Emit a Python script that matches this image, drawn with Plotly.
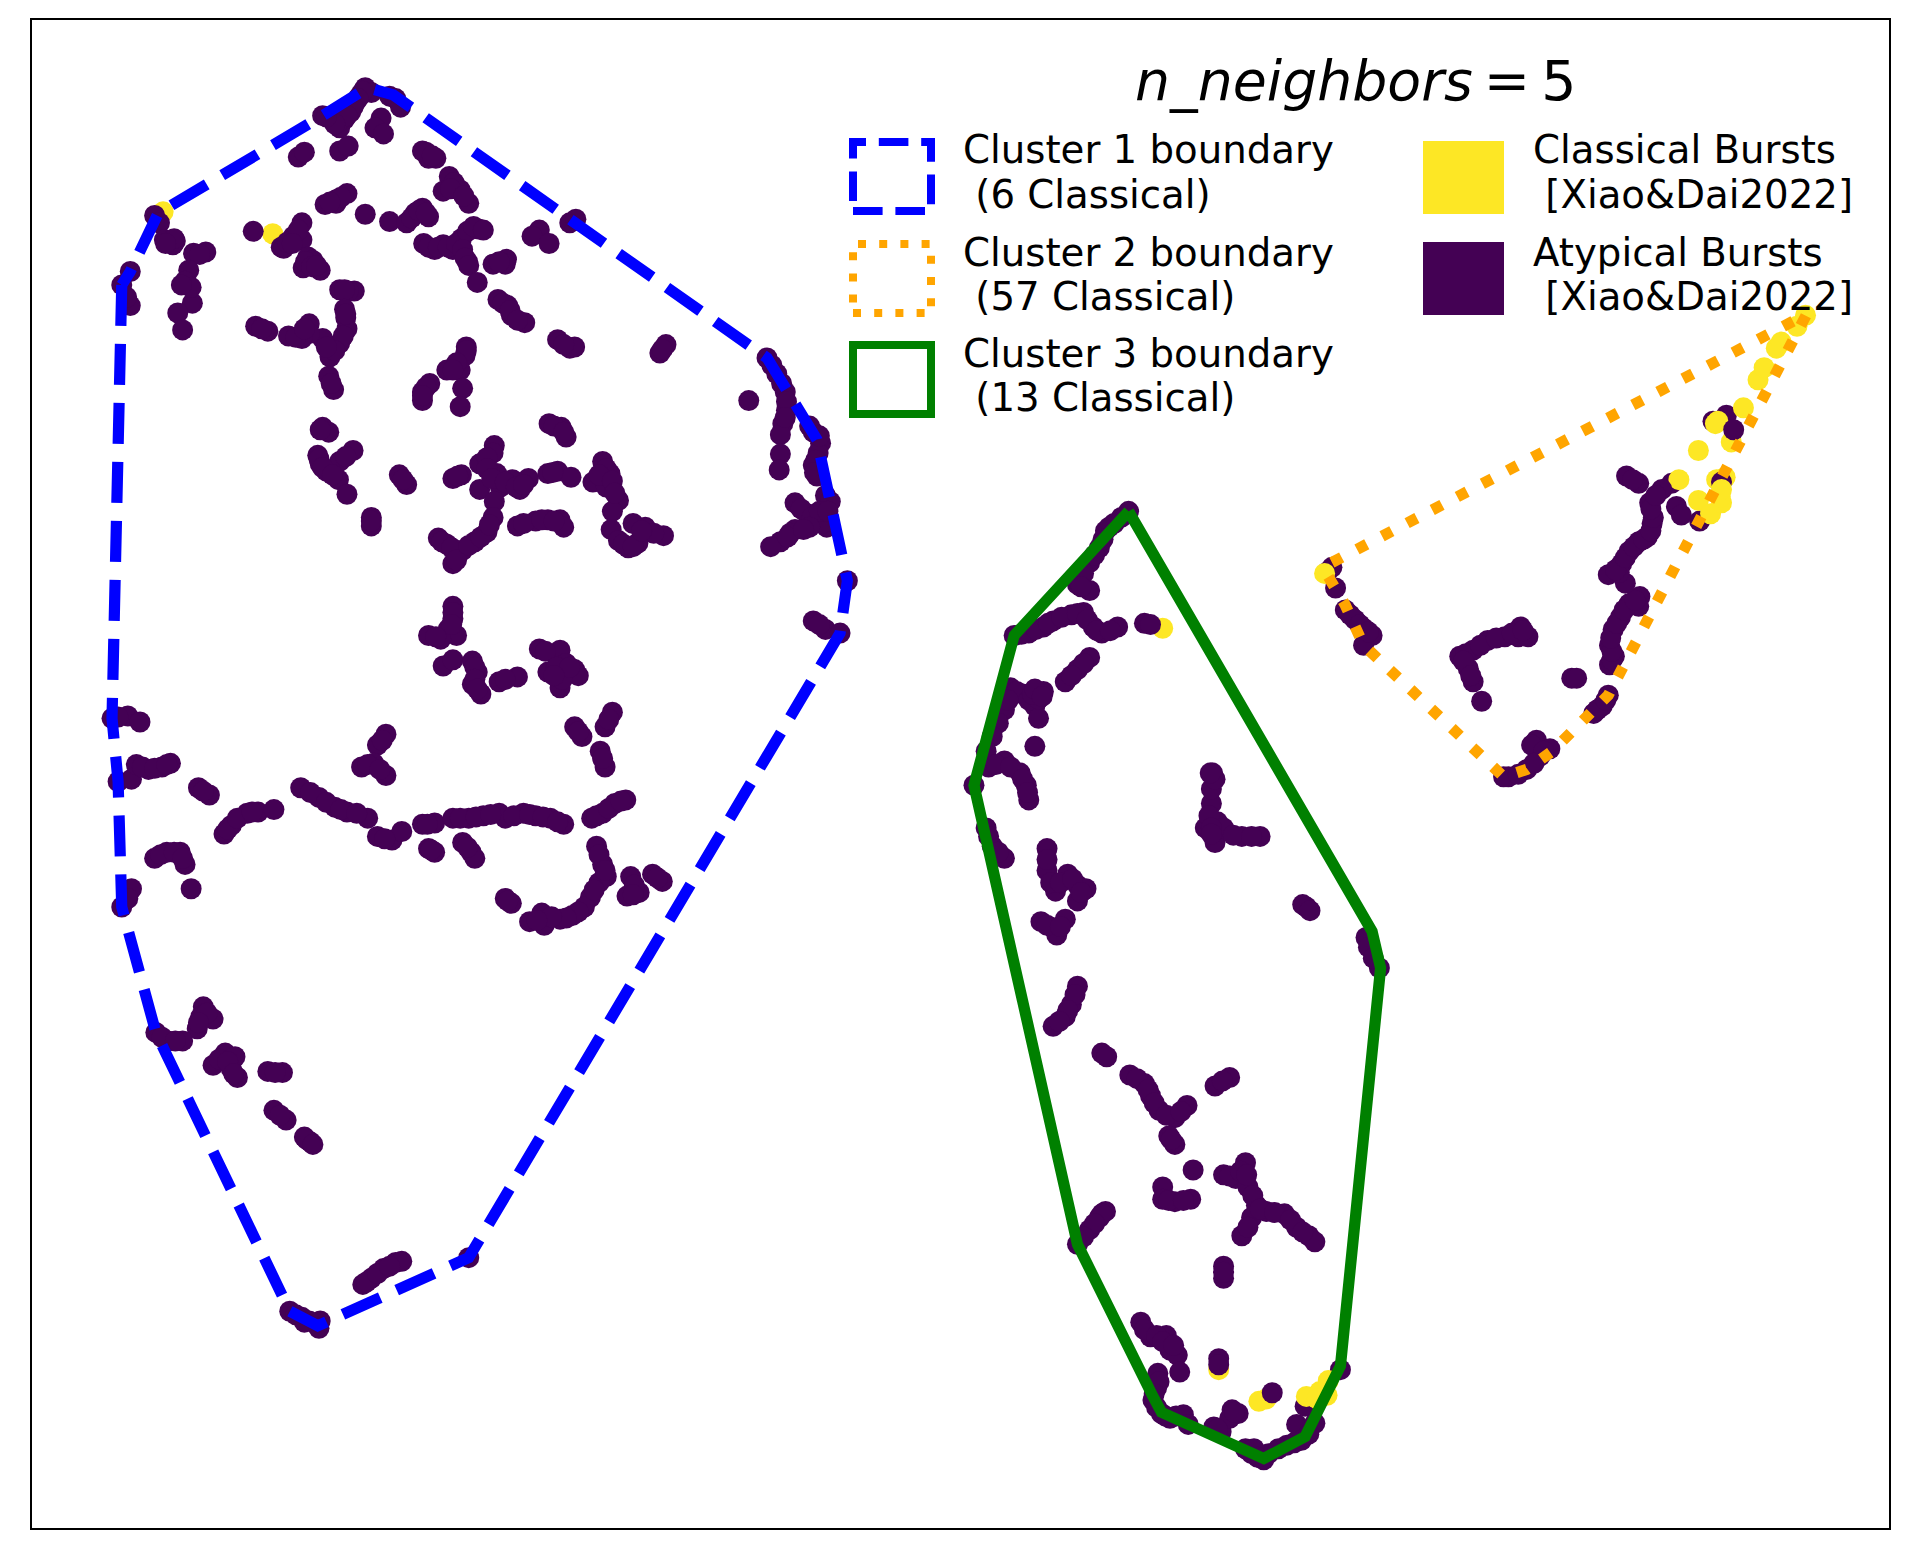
import plotly.graph_objects as go

cluster1_atypical = [
(300,72),(305,76),(296,78),(292,84),(288,92),(283,98),(279,105),(265,95),(271,97),(278,100),
(298,75),(294,81),(290,88),(285,95),(275,102),(268,96),
(320,79),(325,81),(329,88),(313,97),(308,105),(315,110),(245,129),(250,125),(279,124),(286,120),
(350,125),(358,130),(352,130),(347,124),(355,128),(369,145),(364,157),(378,156),(385,167),(373,150),(370,155),(381,161),
(285,159),(276,164),(267,168),(276,167),(280,162),(271,166),
(300,176),(320,182),(334,183),(341,175),(347,171),(352,178),(338,179),(344,173),(350,175),
(348,200),(357,205),(364,201),(372,205),(379,196),(352,203),(360,203),(368,203),(375,200),(384,190),(393,188),(380,205),(384,215),
(389,186),(397,189),(382,212),(385,218),(405,217),(416,213),(415,217),(410,215),(392,232),(409,246),(417,251),(420,259),(431,265),(413,249),(419,255),(425,263),
(458,279),(468,286),(472,285),(463,283),(443,189),(437,194),(451,200),(468,183),(473,180),(208,190),
(127,177),(131,183),(135,197),(142,201),(144,198),(169,207),(159,208),(164,209),(155,222),(153,233),(152,231),
(158,249),(146,257),(150,271),(107,223),(100,234),(107,251),(104,244),
(231,203),(241,194),(248,183),(248,197),(233,204),(253,211),(249,220),(263,222),(257,214),(236,199),(245,189),(240,200),(251,215),(256,219),(260,218),
(279,238),(291,239),(286,239),(283,238),(283,254),(284,261),(285,270),(279,282),(271,293),(265,278),(284,258),(282,276),(275,288),(268,285),
(254,266),(254,274),(248,278),(237,276),(243,277),(250,270),(210,268),(220,272),(215,270),(270,309),(274,320),(272,315),
(383,285),(382,292),(367,304),(378,304),(383,288),(375,298),(372,304),(353,315),(347,322),(347,329),(350,318),(347,325),(380,319),(378,334),
(265,351),(270,355),(263,353),(261,374),(263,381),(268,387),(278,394),(285,406),(290,370),(279,379),(262,377),(265,384),(273,390),(284,375),
(328,390),(334,398),(331,394),(305,425),(305,432),(372,393),(379,390),(376,391),(394,402),
(406,366),(405,372),(394,381),(408,389),(411,400),(427,402),(434,393),(421,394),(406,412),(400,376),(400,385),(404,393),(415,396),(424,400),(430,398),
(450,389),(458,387),(469,392),(454,388),(451,348),(461,351),(465,359),(455,350),(463,355),
(495,379),(501,389),(487,396),(498,400),(508,411),(503,420),(498,385),(492,390),(503,395),(505,405),
(360,442),(367,447),(375,455),(372,463),(380,452),(390,445),(400,437),(405,425),(363,445),(371,450),(375,460),(385,448),(395,441),(402,431),
(425,432),(440,428),(450,427),(460,427),(463,433),(430,430),(445,427),(455,428),
(520,430),(530,433),(545,440),(537,438),(502,435),(508,444),(516,450),(524,446),(512,447),(520,449),(527,436),
(547,283),(542,290),(544,287),(630,294),(638,307),(645,322),(646,337),(643,348),(641,357),(634,300),(642,315),(646,330),(645,343),(615,329),(641,373),(640,386),
(665,350),(674,364),(672,372),(668,382),(671,391),(668,355),(673,358),(670,378),(669,388),
(678,407),(682,412),(653,413),(663,422),(671,427),(679,433),(658,418),(667,425),(675,430),(673,420),(680,420),
(653,435),(641,445),(633,449),(665,433),(649,438),(647,441),(660,435),(696,477),(668,510),(678,517),(690,520),(673,513),
(372,498),(372,508),(368,517),(375,522),(352,522),(362,525),(372,503),(371,513),(358,523),(364,547),(372,542),
(388,543),(392,552),(388,562),(395,570),(410,560),(425,556),(390,548),(390,558),(392,566),(415,558),
(443,533),(460,534),(465,545),(450,552),(472,550),(460,565),(475,555),(462,558),(448,535),(457,548),(468,548),(455,555),
(503,585),(497,597),(472,597),(478,605),(493,617),(497,630),(500,591),(475,601),(495,623),
(317,603),(310,612),(297,630),(307,627),(317,637),(314,608),(302,628),(312,632),(92,590),(105,588),(115,593),(97,589),
(97,642),(108,640),(112,628),(122,632),(133,630),(140,627),(117,630),(127,631),(137,628),(163,647),(172,653),(167,650),
(184,685),(190,678),(203,668),(212,667),(225,665),(187,681),(195,672),(207,667),
(247,647),(262,655),(275,663),(285,667),(302,672),(255,651),(268,659),(280,665),(293,668),
(310,687),(322,690),(330,683),(316,689),(347,677),(357,676),(351,677),(352,697),(357,700),(354,698),
(372,672),(385,672),(397,670),(410,668),(415,672),(430,668),(440,670),(452,672),(463,677),(378,672),(391,671),(403,669),(422,670),(435,669),(446,671),(458,675),
(380,692),(387,700),(390,705),(384,696),(486,672),(495,668),(505,660),(514,657),(490,670),(500,664),(510,658),
(490,695),(495,710),(498,720),(492,725),(485,737),(480,745),(470,752),(460,755),(445,750),(447,760),(435,757),(415,738),(420,742),
(492,702),(497,715),(488,731),(475,749),(465,754),(453,753),(441,756),(417,740),
(518,720),(525,733),(515,736),(536,718),(544,724),(521,727),(520,735),(540,721),
(127,705),(137,700),(148,700),(152,710),(157,730),(132,702),(143,700),(150,705),(108,730),(100,745),(105,738),
(167,827),(175,837),(162,845),(165,835),(170,832),(163,840),(128,848),(138,855),(150,855),(133,852),(144,855),
(185,865),(175,875),(190,878),(195,885),(193,868),(180,870),(187,872),(192,882),(220,880),(232,881),(226,881),(225,912),(235,920),(230,916),(252,936),(255,938),
(298,1055),(305,1050),(315,1042),(325,1037),(330,1036),(301,1053),(310,1046),(320,1040),(385,1033),(238,1077),(248,1082),(260,1088),(263,1085),(243,1080),(254,1085),
(250,934),(257,940),(305,428),(143,196),(136,200),(157,236),(149,234),(250,1086),(262,1091),
]
cluster2_atypical_front = [
(1097,483),(1105,501),(1113,509),(1120,516),(1127,522),(1120,530),(1109,505),(1117,513),(1124,519),
(1199,539),(1210,534),(1206,549),(1210,560),(1222,526),(1236,523),(1249,515),(1247,523),(1255,523),(1217,576),
(1204,537),(1202,543),(1208,555),(1216,530),(1229,524),(1242,520),(1251,518),
(1291,557),(1295,557),(1262,608),(1273,615),(1265,621),(1254,632),(1239,638),(1235,638),(1258,612),(1268,617),(1260,627),(1247,636),
(1309,586),(1316,580),(1321,571),(1312,583),(1319,575),
(1322,546),(1326,539),(1322,530),(1325,517),(1331,507),(1338,496),(1347,490),(1346,498),(1324,542),(1324,535),(1323,524),(1328,512),(1334,501),(1343,493),
(1335,479),(1321,472),(1332,463),(1338,453),(1346,445),(1353,441),(1357,430),(1355,413),(1365,402),(1330,470),(1327,468),(1335,458),(1342,449),(1350,443),(1356,436),(1358,425),(1356,418),(1360,407),
(1336,391),(1346,397),(1341,394),(1377,416),(1381,423),(1424,353),
]
cluster2_atypical_back = [(1094,466),(1090,470),(1373,397),(1396,428),(1418,341),(1407,346),(1414,396)]
cluster3_atypical_front = [
(927,420),(915,430),(908,436),(903,450),(895,462),(885,480),(895,485),(921,425),(911,433),(906,443),(899,456),(890,471),(888,482),
(833,522),(845,520),(857,515),(865,510),(880,505),(890,503),(898,515),(905,520),(918,515),(940,512),(839,521),(851,517),(861,512),(872,507),(885,504),(893,509),(901,518),(912,518),(945,513),
(895,540),(885,550),(875,560),(890,545),(880,555),(830,565),(840,570),(850,580),(857,568),(825,583),(853,590),(835,568),(845,575),(853,574),(848,570),(828,575),(820,594),(815,605),(850,613),
(812,630),(825,625),(838,635),(843,645),(845,657),(810,617),(818,628),(830,630),(840,640),(844,651),(800,645),(810,680),(815,695),(825,705),(812,687),(820,700),
(860,697),(860,715),(867,732),(877,718),(885,727),(885,740),(892,730),(860,706),(863,725),(871,725),(881,722),(888,733),(855,757),(865,762),(875,755),(868,768),(860,760),(871,761),
(885,810),(880,825),(875,835),(865,843),(883,817),(877,830),(870,839),(905,865),(909,868),(928,883),(940,890),(945,900),(952,912),(965,918),(975,908),(934,886),(943,895),(948,906),(958,916),(970,913),
(998,892),(1010,885),(1004,888),(960,933),(965,940),(962,936),(980,961),(955,975),(955,985),(965,987),(978,985),(960,986),(972,986),
(1005,965),(1015,968),(1023,955),(1025,975),(1032,990),(1028,1000),(1020,1015),(1040,995),(1055,997),(1065,1008),(1075,1015),(1080,1020),
(1010,966),(1019,962),(1024,965),(1029,982),(1025,1008),(1035,993),(1047,996),(1060,1002),(1070,1012),
(908,995),(903,1000),(895,1010),(885,1022),(905,997),(899,1005),(890,1016),(1005,1040),(1005,1050),(1005,1045),
(996,635),(995,660),(990,680),(1000,675),(998,692),(1005,680),(1020,687),(1035,687),(995,648),(993,670),(995,680),(1013,686),(1028,687),(1073,745),(1122,770),(1133,795),(1124,778),(1128,787),
(937,1086),(945,1098),(958,1097),(961,1109),(967,1113),(969,1127),(951,1128),(950,1140),(947,1150),(954,1161),(961,1165),(940,1092),(950,1097),(955,1102),(964,1105),(952,1135),(948,1145),(950,1156),(957,1163),(966,1163),
(972,1162),(976,1170),(997,1172),(1003,1176),(1012,1158),(1017,1161),(1010,1165),(1000,1174),(1014,1160),(1001,1116),(1001,1121),(1045,1144),
(1023,1190),(1038,1199),(1042,1194),(1028,1194),(1057,1187),(1069,1183),(1030,1190),(1033,1197),(1050,1190),(1063,1185),(1075,1178),
(1070,743),(1076,748),(998,640),(994,635),(995,685),(850,566),(856,572),
]
cluster3_atypical_back = [(1065,1170),(1072,1155),(1080,1169),(1101,1125)]
classical_back = [(134,174),(224,192),(1417,392),(1410,394)]
classical_front = [
(955,516),(1001,1125),(1034,1151),(1040,1149),(1073,1147),(1084,1143),(1082,1149),(1091,1134),(1090,1146),
(1379,394),(1395,370),(1409,348),(1411,346),(1422,363),(1432,335),(1444,312),(1449,302),(1459,286),(1463,281),(1476,268),(1483,259),
(1395,411),(1405,422),(1414,413),(1413,408),(1414,402),(1088,471),
]

cluster1_boundary = [(100,234),(92,590),(97,642),(100,745),(128,848),(238,1077),(261,1089),(385,1033),(690,520),(696,477),(671,361),(630,294),(323,78),(302,72),(265,95),(130,175),(107,223),(100,234)]
cluster2_boundary = [(1094,462),(1484,258),(1321,571),(1275,617),(1254,632),(1235,638),(1120,530),(1105,497),(1090,472),(1094,462)]
cluster3_boundary = [(927,420),(1127,765),(1134,795),(1101,1122),(1072,1180),(1038,1198),(954,1160),(947,1147),(885,1022),(808,680),(800,645),(833,522),(927,420)]

legend_left = [("Cluster 1 boundary", " (6 Classical)"), ("Cluster 2 boundary", " (57 Classical)"), ("Cluster 3 boundary", " (13 Classical)")]
legend_right = [("Classical Bursts", " [Xiao&Dai2022]"), ("Atypical Bursts", " [Xiao&Dai2022]")]
title_text = "<i>n_neighbors</i>\u2009=\u20095"

PURPLE = "#440154"; YELLOW = "#fde725"
W, H = 1909, 1559
L, R, T, B = 32, 1889, 20, 1528
FONT = "DejaVu Sans"
K = 1909 / 1568

def px(x): return (x - L) / (R - L)
def py(y): return (B - y) / (B - T)

fig = go.Figure()
def dots(points, color, name):
    fig.add_trace(go.Scatter(x=[p[0] for p in points], y=[p[1] for p in points], mode="markers", name=name,
                             marker=dict(color=color, size=21, line=dict(width=0))))
def outline(points, color, dash, name):
    fig.add_trace(go.Scatter(x=[p[0] for p in points], y=[p[1] for p in points], mode="lines", name=name,
                             line=dict(color=color, width=11.2, dash=dash)))

dots(classical_back, YELLOW, "Classical (under)")
dots(cluster2_atypical_back + cluster3_atypical_back, PURPLE, "Atypical (under)")
dots(classical_front, YELLOW, "Classical")
dots(cluster1_atypical + cluster2_atypical_front + cluster3_atypical_front, PURPLE, "Atypical")
outline(cluster1_boundary, "blue", "41px,18px", "Cluster 1 boundary")
outline(cluster2_boundary, "orange", "11px,17.3px", "Cluster 2 boundary")
outline(cluster3_boundary, "green", "solid", "Cluster 3 boundary")

shapes = []
tops = [142, 244, 345]
styles = [("blue", "29.6px,12.8px"), ("orange", "8px,13.2px"), ("green", "solid")]
for top, (c, d) in zip(tops, styles):
    shapes.append(dict(type="rect", xref="paper", yref="paper", x0=px(853), x1=px(931), y0=py(top + 69), y1=py(top),
                       line=dict(color=c, width=8, dash=d), fillcolor="rgba(0,0,0,0)"))
for top, c in zip([141, 242], [YELLOW, PURPLE]):
    shapes.append(dict(type="rect", xref="paper", yref="paper", x0=px(1423), x1=px(1504), y0=py(top), y1=py(top + 73),
                       line=dict(width=0), fillcolor=c))

ann = []
def text(x, y, s, size=38.7):
    ann.append(dict(xref="paper", yref="paper", x=px(x), y=py(y), text=s, showarrow=False, xanchor="left", yanchor="middle",
                    font=dict(family=FONT, size=size, color="black")))
for (a, b), y in zip(legend_left, [150, 252, 353]):
    text(961, y, a); text(961, y + 44, b.replace(" ", "\u00a0", 1))
for (a, b), y in zip(legend_right, [150, 252]):
    text(1531, y, a); text(1531, y + 44, b.replace(" ", "\u00a0", 1))
text(1133, 81, title_text, 55.3)

fig.update_layout(width=W, height=H, margin=dict(l=L, r=W - R, t=T, b=H - B, pad=0, autoexpand=False), showlegend=False,
                  paper_bgcolor="white", plot_bgcolor="white", shapes=shapes, annotations=ann,
                  font=dict(family=FONT))
fig.update_xaxes(range=[L / K, R / K], showgrid=False, zeroline=False, showticklabels=False, ticks="",
                 showline=True, mirror=True, linecolor="black", linewidth=2)
fig.update_yaxes(range=[B / K, T / K], showgrid=False, zeroline=False, showticklabels=False, ticks="",
                 showline=True, mirror=True, linecolor="black", linewidth=2)
fig.write_html("out.html", config=dict(displayModeBar=False),
               post_script="document.body.style.margin='0';document.body.style.overflow='hidden';")
